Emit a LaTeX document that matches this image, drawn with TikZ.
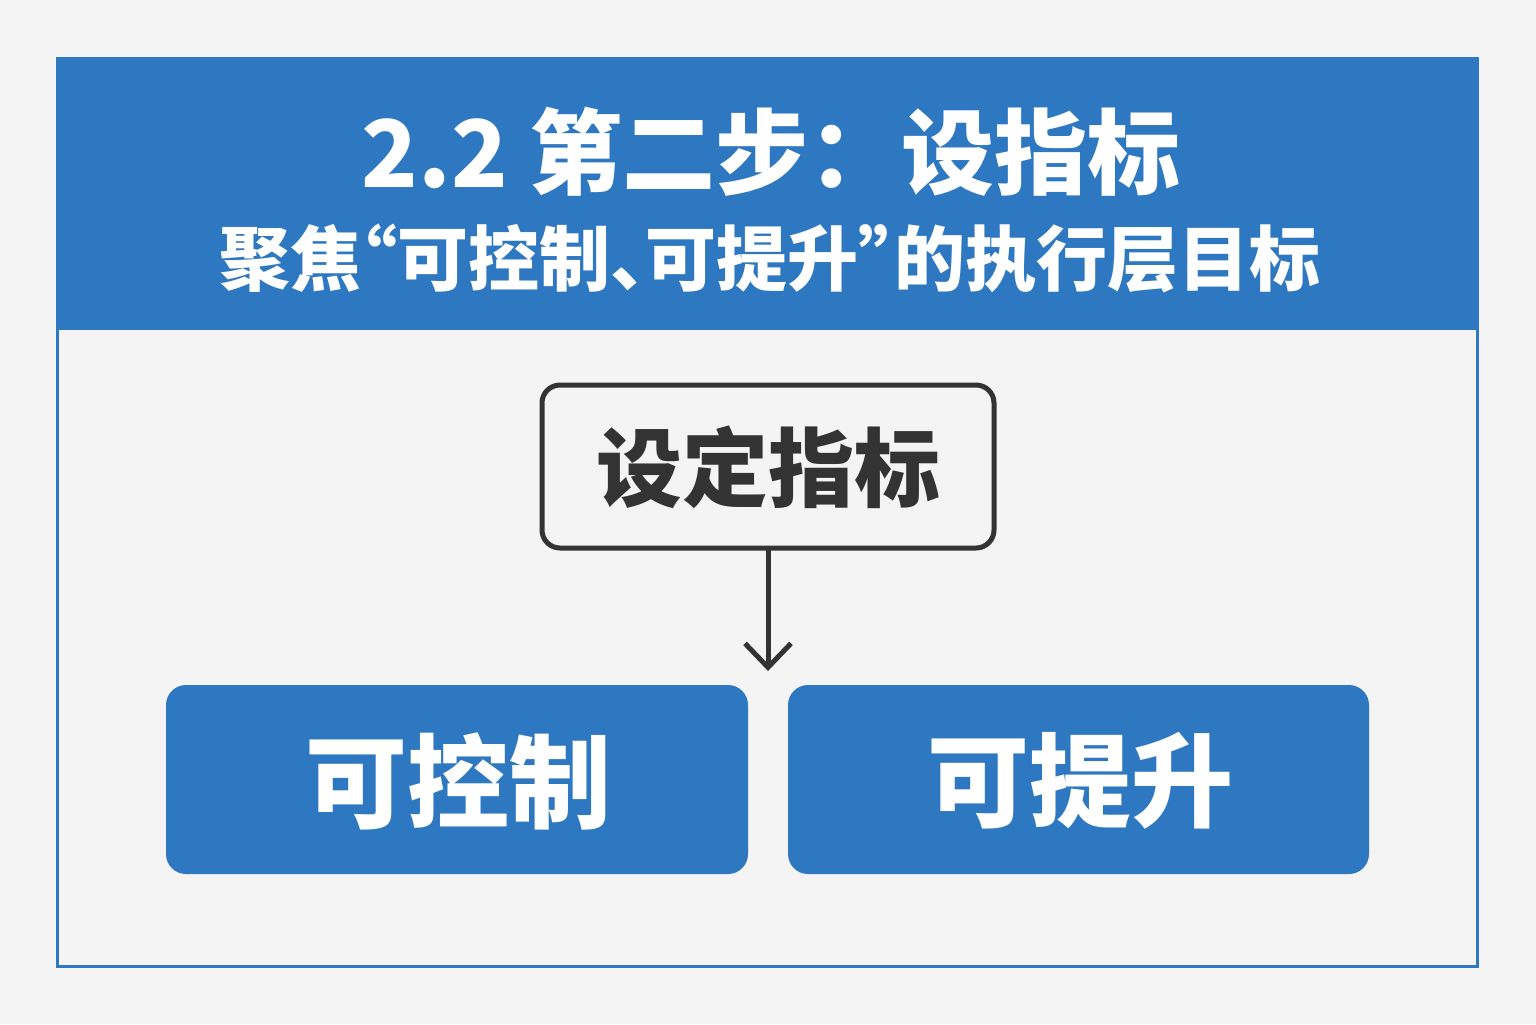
\documentclass[tikz,border=0pt]{standalone}
\usepackage{fontspec}
\setmainfont{Noto Sans CJK SC}
\newfontfamily\cjkp[RawFeature=+palt]{Noto Sans CJK SC}
\usetikzlibrary{arrows.meta}
\definecolor{hblue}{HTML}{2E78C2}
\definecolor{bgc}{HTML}{F4F4F4}
\definecolor{dk}{HTML}{333333}
\tikzset{
  bluebox/.style={fill=hblue, rounded corners=10pt, inner sep=0pt},
  keybox/.style={draw=dk, line width=2.5pt, fill=bgc, rounded corners=9pt, inner sep=0pt},
}
\begin{document}
\begin{tikzpicture}[x=0.5pt,y=-0.5pt]
\useasboundingbox (0,0) rectangle (1536,1024);
\fill[bgc] (0,0) rectangle (1536,1024);
% frame
\fill[hblue] (56,57) rectangle (1479,330);
\draw[hblue, line width=1.5pt] (57.5,58.5) rectangle (1477.5,966.5);
\node[text=white, font=\bfseries\fontsize{46.5}{46.5}\selectfont] (title) at (771,152) {2.2 第二步：设指标};
\node[text=white, font=\cjkp\bfseries\fontsize{35.5}{35.5}\selectfont] (sub) at (770,259) {聚焦“可控制、可提升”的执行层目标};
% key box
\draw[keybox] (542,385) rectangle (994,548);
\node[text=dk, font=\bfseries\fontsize{43}{43}\selectfont] (key) at (768,467) {设定指标};
\coordinate (ktop) at (768,548);
\coordinate (kend) at (768,671);
\draw[dk, line width=2.5pt, -{Straight Barb[length=12pt,width=23pt,line width=2.5pt]}] (ktop) -- (kend);
% blue boxes
\fill[bluebox] (166,685) rectangle (748,874);
\fill[bluebox] (788,685) rectangle (1369,874);
\node[text=white, font=\bfseries\fontsize{51}{51}\selectfont] (a) at (458,781) {可控制};
\node[text=white, font=\bfseries\fontsize{51}{51}\selectfont] (b) at (1080,781) {可提升};
\end{tikzpicture}
\end{document}
